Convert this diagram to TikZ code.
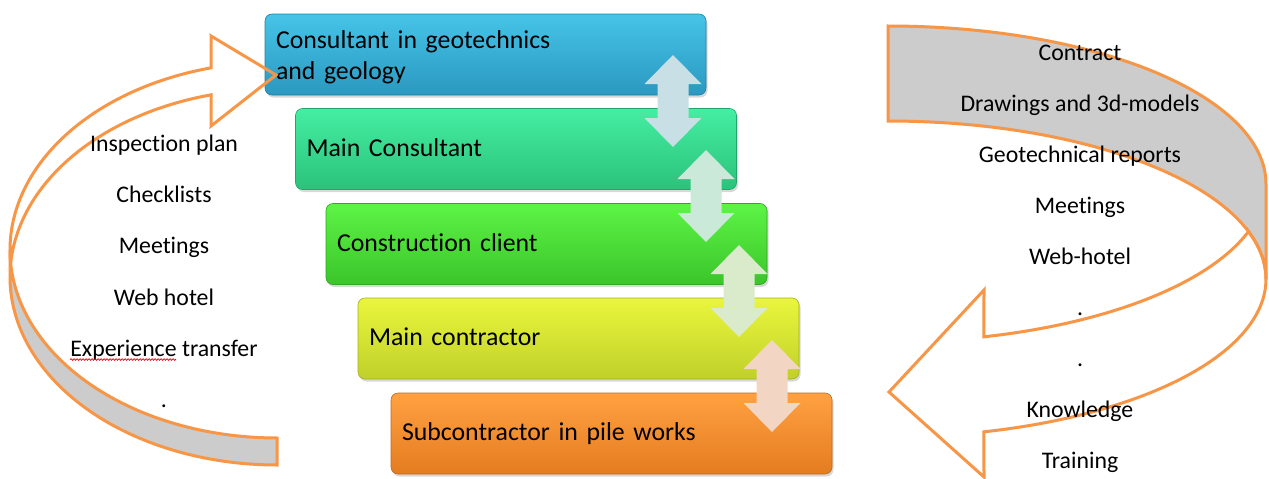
\documentclass[tikz,border=0pt]{standalone}
\usepackage{fontspec}
\setmainfont{Carlito}[Ligatures={NoCommon,NoContextual}]
\usetikzlibrary{shadows,calc,decorations.pathmorphing}
\definecolor{arrorange}{HTML}{F79646}
\definecolor{backgray}{HTML}{CCCCCC}
\definecolor{blueT}{HTML}{46C4E8}\definecolor{blueB}{HTML}{2B98C0}
\definecolor{tealT}{HTML}{44EEA2}\definecolor{tealB}{HTML}{2BC27B}
\definecolor{greenT}{HTML}{5EF446}\definecolor{greenB}{HTML}{3AC52A}
\definecolor{yelT}{HTML}{EAF63C}\definecolor{yelB}{HTML}{C0D02A}
\definecolor{orT}{HTML}{FFA142}\definecolor{orB}{HTML}{E47C20}
\definecolor{arA}{HTML}{C8DFE6}\definecolor{arB}{HTML}{CBE9D8}
\definecolor{arC}{HTML}{DAEBCB}\definecolor{arD}{HTML}{F2D6C3}
\newcommand\bxfont{\fontsize{25.8pt}{31pt}\selectfont}
\newcommand\lsfont{\fontsize{23.8pt}{28pt}\selectfont}
\begin{document}
\begin{tikzpicture}[x=1pt,y=-1pt,
  box/.style={rounded corners=7pt, minimum width=441pt, minimum height=81pt,
    inner xsep=11pt, inner ysep=0pt, text width=419pt, align=left, font=\bxfont,
    line width=0.6pt,
    drop shadow={opacity=0.3, shadow xshift=1.5pt, shadow yshift=-2.5pt}},
  oneline/.style={text height=18pt, text depth=4pt},
  listtxt/.style={anchor=base, font=\lsfont, inner sep=0pt},
  curve/.style={draw=arrorange, line width=3pt, line join=miter},
  spell/.style={draw=red, line width=0.8pt, decorate,
    decoration={snake, segment length=3pt, amplitude=0.8pt}},
  updown/.pic={\fill[pic actions] (0,0) -- (28.5,29) -- (15.5,29) -- (15.5,63) -- (28.5,63)
     -- (0,92) -- (-28.5,63) -- (-15.5,63) -- (-15.5,29) -- (-28.5,29) -- cycle;}
]
\fill[white] (0,0) rectangle (1269,479);
\useasboundingbox (0,0) rectangle (1269,479);

% boxes
\node[box, top color=blueT, bottom color=blueB, draw=blueB!85!black] (b1) at (485.5,54.5)
  {\rule{0pt}{24pt}Consultant in geotechnics\\and geology};
\node[box, oneline, top color=tealT, bottom color=tealB, draw=tealB!85!black] (b2) at (516,149) {Main Consultant};
\node[box, oneline, top color=greenT, bottom color=greenB, draw=greenB!85!black] (b3) at (546.5,244) {Construction client};
\node[box, oneline, top color=yelT, bottom color=yelB, draw=yelB!85!black] (b4) at (578.5,338.5) {Main contractor};
\node[box, oneline, top color=orT, bottom color=orB, draw=orB!85!black] (b5) at (611.5,433.5) {Subcontractor in pile works};

% double arrows between boxes
\pic[fill=arA] (a1) at (673,55) {updown};
\pic[fill=arB] (a2) at (706,150) {updown};
\pic[fill=arC] (a3) at (739,245) {updown};
\pic[fill=arD] (a4) at (772,340) {updown};

% left curved arrow
\draw[curve, fill=backgray]
  plot[domain=90:180, samples=80, variable=\t] ({277+267*cos(\t)},{277+188*sin(\t)})
  -- plot[domain=180:90, samples=80, variable=\t] ({277+267*cos(\t)},{250+188*sin(\t)})
  -- cycle;
\draw[curve]
  plot[domain=175.9:255.7, samples=80, variable=\t] ({277+267*cos(\t)},{250+188*sin(\t)})
  -- (211,36) -- (276,75) -- (211,126)
  -- plot[domain=255.7:184.1, samples=80, variable=\t] ({277+267*cos(\t)},{277+188*sin(\t)})
  -- cycle;

% right curved arrow
\draw[curve, fill=backgray]
  plot[domain=-90:0, samples=80, variable=\t] ({888+378*cos(\t)},{184+158*sin(\t)})
  -- plot[domain=0:-90, samples=80, variable=\t] ({888+378*cos(\t)},{279+158*sin(\t)})
  -- cycle;
\draw[curve]
  plot[domain=-17.5:75.3, samples=80, variable=\t] ({888+378*cos(\t)},{279+158*sin(\t)})
  -- (984,477) -- (889,392) -- (984,290)
  -- plot[domain=75.3:17.5, samples=80, variable=\t] ({888+378*cos(\t)},{184+158*sin(\t)})
  -- cycle;

% left list
\node[listtxt] (l1) at (164,151.7) {Inspection plan};
\node[listtxt] (l2) at (164,202.8) {Checklists};
\node[listtxt] (l3) at (164,253.9) {Meetings};
\node[listtxt] (l4) at (164,305) {Web hotel};
\node[listtxt] (l5) at (164,356) {Experience transfer};
\node[listtxt] (l6) at (164,407) {.};
\draw[spell] ($(l5.base west)+(0,3.5)$) -- ($(l5.base west)+(106,3.5)$);

% right list
\node[listtxt] (r1) at (1080,60) {Contract};
\node[listtxt] (r2) at (1080,111.1) {Drawings and 3d-models};
\node[listtxt] (r3) at (1080,162.2) {Geotechnical reports};
\node[listtxt] (r4) at (1080,213.3) {Meetings};
\node[listtxt] (r5) at (1080,264.4) {Web-hotel};
\node[listtxt] (r6) at (1080,315.5) {.};
\node[listtxt] (r7) at (1080,366.6) {.};
\node[listtxt] (r8) at (1080,417.7) {Knowledge};
\node[listtxt] (r9) at (1080,468.8) {Training};
\end{tikzpicture}
\end{document}
